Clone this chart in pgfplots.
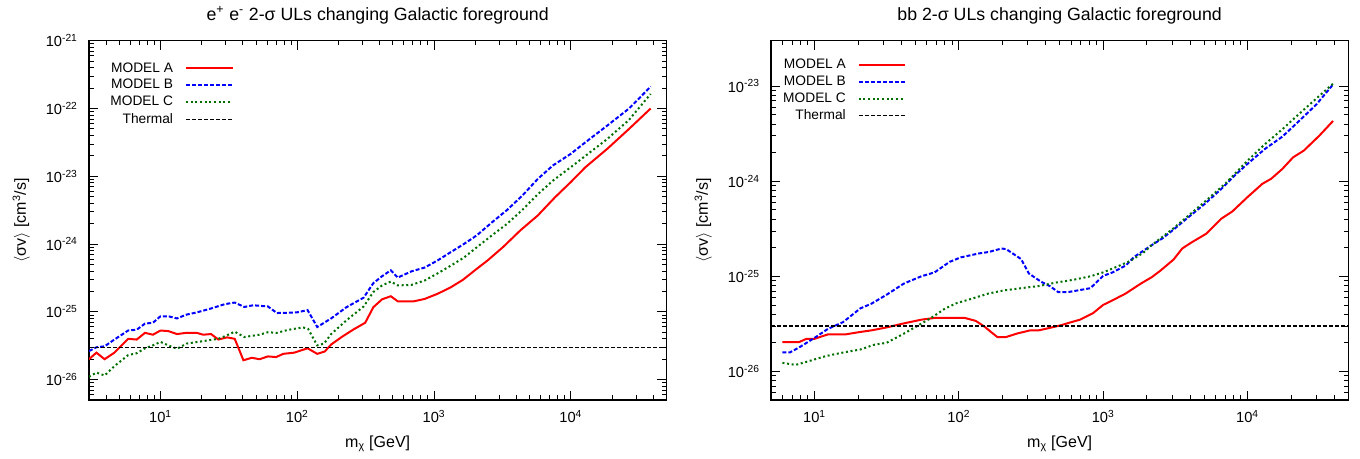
\documentclass[border=0pt]{standalone}
\usepackage{fontspec}
\setmainfont{Liberation Sans}
\usepackage{pgfplots}
\pgfplotsset{compat=1.18}
\definecolor{mred}{RGB}{255,0,0}
\definecolor{mblue}{RGB}{0,0,255}
\definecolor{mgreen}{RGB}{0,110,0}

\pgfplotsset{
 log number format basis/.code 2 args={#1\textsuperscript{\pgfmathprintnumber[assume math mode=true]{#2}}},
 legend image code/.code={\draw[#1] (0pt,0pt) -- (35pt,0pt);},
}
\tikzset{
 modA/.style={mred, line width=1.5pt},
 modB/.style={mblue, line width=1.5pt, dash pattern=on 3pt off 1.5pt},
 modC/.style={mgreen, line width=1.5pt, dash pattern=on 1.5pt off 2pt},
 therm/.style={black, line width=0.9pt, dash pattern=on 3pt off 1.5pt},
}

\begin{document}
\begin{tikzpicture}
\path (-66.75pt,-43.5pt) rectangle (953.25pt,300pt);

% left: e+ e-
\begin{axis}[xmode=log, ymode=log,
 scale only axis, width=433pt, height=269.5pt,
 at={(0pt,0pt)}, anchor=south west,
 xmin=3, xmax=5e4, ymin=5e-27, ymax=1e-21,
 axis line style={line width=0.9pt},
 major tick length=7pt, minor tick length=3.5pt,
 tick style={black, line width=0.6pt},
 tick label style={font=\fontsize{11}{13}\selectfont},
 xticklabel style={yshift=-4pt}, yticklabel style={xshift=-5pt},
 label style={font=\fontsize{12}{14}\selectfont},
 xlabel style={yshift=-3pt}, ylabel style={yshift=5pt},
 title style={font=\fontsize{13.3}{15}\selectfont, yshift=3pt},
 xlabel={m\textsubscript{χ} [GeV]},
 ylabel={$\langle$σv$\rangle$ [cm\textsuperscript{3}/s]},
 title={e\textsuperscript{+} e\textsuperscript{-} 2-σ ULs changing Galactic foreground},
 legend cell align=right, legend plot pos=right,
 legend style={draw=none, fill=none, font=\fontsize{10.3}{12}\selectfont,
   row sep=0pt, column sep=7pt, anchor=north east, at={(0.258,0.955)}}]
\addplot[modA] coordinates {(3,2.0e-26) (3.4,2.5e-26) (3.9,2.0e-26) (4.6,2.5e-26) (5.8,4.0e-26) (6.7,3.9e-26) (7.7,4.9e-26) (8.8,4.6e-26) (10,5.3e-26) (11.4,5.2e-26) (13.2,4.7e-26) (15.5,4.9e-26) (18.4,4.9e-26) (20.5,4.6e-26) (23.4,4.7e-26) (26.5,3.9e-26) (30.6,4.2e-26) (34.9,4.0e-26) (40.4,1.93e-26) (46.5,2.1e-26) (53,2.0e-26) (61,2.2e-26) (70,2.15e-26) (79,2.4e-26) (95,2.5e-26) (119,2.9e-26) (140,2.4e-26) (159,2.6e-26) (177,3.3e-26) (213,4.3e-26) (256,5.45e-26) (314,6.9e-26) (360,1.17e-25) (417,1.53e-25) (483,1.7e-25) (543,1.43e-25) (712,1.43e-25) (855,1.55e-25) (1065,1.85e-25) (1326,2.3e-25) (1629,2.97e-25) (1984,4.08e-25) (2470,5.75e-25) (3193,9.0e-25) (4277,1.59e-24) (5729,2.63e-24) (7675,4.9e-24) (1e4,8.2e-24) (1.28e4,1.36e-23) (1.85e4,2.54e-23) (2.67e4,5.0e-23) (3.84e4,1.0e-22)};
\addlegendentry{MODEL A}
\addplot[modB] coordinates {(3,2.64e-26) (3.4,3.0e-26) (3.9,3.1e-26) (4.6,3.9e-26) (5.8,5.3e-26) (6.7,5.45e-26) (7.7,6.7e-26) (8.8,6.9e-26) (10,8.6e-26) (11.4,8.6e-26) (13.2,8.0e-26) (15.5,9.1e-26) (18.4,9.8e-26) (23.4,1.12e-25) (29.6,1.3e-25) (34.9,1.37e-25) (41,1.18e-25) (47.6,1.25e-25) (61,1.2e-25) (71,9.6e-26) (85,9.7e-26) (99,9.8e-26) (119,1.06e-25) (140,5.97e-26) (177,8.0e-26) (229,1.17e-25) (306,1.62e-25) (360,2.65e-25) (417,3.35e-25) (483,4.1e-25) (543,3.2e-25) (685,3.96e-25) (855,4.5e-25) (1065,5.75e-25) (1326,7.6e-25) (1653,1.0e-24) (2061,1.35e-24) (2660,2.1e-24) (3435,3.2e-24) (4430,5.2e-24) (5729,9.1e-24) (7394,1.44e-23) (1e4,2.14e-23) (1.28e4,3.17e-23) (1.85e4,5.6e-23) (2.67e4,1.0e-22) (3.84e4,2.1e-22)};
\addlegendentry{MODEL B}
\addplot[modC] coordinates {(3,1.1e-26) (3.4,1.27e-26) (3.9,1.15e-26) (4.6,1.58e-26) (5.8,2.3e-26) (6.7,2.45e-26) (7.7,2.9e-26) (8.8,3.2e-26) (10,3.6e-26) (11.4,3.2e-26) (13.2,2.85e-26) (15.5,3.4e-26) (20.5,3.7e-26) (26.5,4.0e-26) (30.6,4.5e-26) (34.9,5.1e-26) (41,4.25e-26) (53,4.6e-26) (61,5.0e-26) (71,4.9e-26) (85,5.4e-26) (110,5.9e-26) (120,5.6e-26) (140,3.2e-26) (157,3.4e-26) (177,4.7e-26) (229,7.5e-26) (306,1.2e-25) (360,1.96e-25) (417,2.45e-25) (483,2.8e-25) (543,2.45e-25) (685,2.5e-25) (855,2.9e-25) (1065,3.7e-25) (1326,4.8e-25) (1653,6.3e-25) (2061,9.0e-25) (2660,1.35e-24) (3435,2.0e-24) (4430,3.2e-24) (5729,5.4e-24) (7394,8.6e-24) (1e4,1.36e-23) (1.28e4,2.0e-23) (1.85e4,3.55e-23) (2.67e4,6.8e-23) (3.84e4,1.64e-22)};
\addlegendentry{MODEL C}
\addplot[therm] coordinates {(3,3e-26) (5e4,3e-26)};
\addlegendentry{Thermal}
\end{axis}

% right: b bbar
\begin{axis}[xmode=log, ymode=log,
 scale only axis, width=433pt, height=269.5pt,
 at={(511.5pt,0pt)}, anchor=south west,
 xmin=5, xmax=5e4, ymin=5e-27, ymax=3e-23,
 axis line style={line width=0.9pt},
 major tick length=7pt, minor tick length=3.5pt,
 tick style={black, line width=0.6pt},
 tick label style={font=\fontsize{11}{13}\selectfont},
 xticklabel style={yshift=-4pt}, yticklabel style={xshift=-5pt},
 label style={font=\fontsize{12}{14}\selectfont},
 xlabel style={yshift=-3pt}, ylabel style={yshift=5pt},
 title style={font=\fontsize{13.3}{15}\selectfont, yshift=3pt},
 xlabel={m\textsubscript{χ} [GeV]},
 ylabel={$\langle$σv$\rangle$ [cm\textsuperscript{3}/s]},
 title={bb 2-σ ULs changing Galactic foreground},
 legend cell align=right, legend plot pos=right,
 legend style={draw=none, fill=none, font=\fontsize{10.3}{12}\selectfont,
   row sep=0pt, column sep=7pt, anchor=north east, at={(0.242,0.965)}}]
\addplot[modA] coordinates {(6,2.03e-26) (7.8,2.03e-26) (8.8,2.2e-26) (10,2.2e-26) (12.4,2.45e-26) (16.4,2.45e-26) (20.8,2.6e-26) (24.8,2.7e-26) (31.6,2.9e-26) (41.7,3.2e-26) (55,3.5e-26) (68,3.65e-26) (110,3.65e-26) (131,3.4e-26) (151,2.95e-26) (167,2.6e-26) (185,2.3e-26) (213,2.3e-26) (253,2.5e-26) (312,2.7e-26) (358,2.7e-26) (441,2.9e-26) (507,3.05e-26) (603,3.3e-26) (692,3.5e-26) (852,4.1e-26) (1000,5.0e-26) (1165,5.6e-26) (1435,6.6e-26) (1829,8.4e-26) (2175,9.8e-26) (2500,1.15e-25) (3077,1.5e-25) (3532,1.96e-25) (4057,2.25e-25) (5173,2.8e-25) (6596,4.04e-25) (7852,4.8e-25) (1e4,6.8e-25) (1.27e4,9.4e-25) (1.46e4,1.06e-24) (1.74e4,1.34e-24) (2.07e4,1.78e-24) (2.46e4,2.1e-24) (3.14e4,3.0e-24) (3.92e4,4.3e-24)};
\addlegendentry{MODEL A}
\addplot[modB] coordinates {(6,1.59e-26) (6.8,1.59e-26) (7.9,1.8e-26) (10,2.25e-26) (12.4,2.8e-26) (15.8,3.3e-26) (20.8,4.6e-26) (24.8,5.15e-26) (31.6,6.4e-26) (41.7,8.4e-26) (55,1.0e-25) (68,1.1e-25) (86.5,1.42e-25) (103,1.58e-25) (138,1.74e-25) (161,1.8e-25) (198,1.96e-25) (213,1.93e-25) (270,1.52e-25) (306,1.07e-25) (370,8.8e-26) (427,7.9e-26) (490,6.8e-26) (563,6.8e-26) (666,7.1e-26) (816,7.5e-26) (1000,1.01e-25) (1165,1.1e-25) (1435,1.3e-25) (1642,1.6e-25) (2175,2.13e-25) (2570,2.5e-25) (3077,3.1e-25) (3790,4.04e-25) (5010,5.7e-25) (6596,8.3e-25) (8110,1.14e-24) (1e4,1.52e-24) (1.32e4,2.18e-24) (1.74e4,2.93e-24) (2.28e4,4.3e-24) (3.0e4,6.4e-24) (3.92e4,1.04e-23)};
\addlegendentry{MODEL B}
\addplot[modC] coordinates {(6,1.23e-26) (7.4,1.17e-26) (9.1,1.28e-26) (12,1.45e-26) (15.8,1.58e-26) (20.8,1.7e-26) (25.7,1.9e-26) (31.6,2.0e-26) (41.7,2.5e-26) (51.4,3.0e-26) (63.4,3.6e-26) (80.7,4.6e-26) (96,5.2e-26) (127,5.9e-26) (161,6.6e-26) (205,7.1e-26) (270,7.5e-26) (358,7.9e-26) (473,8.6e-26) (624,9.2e-26) (816,1.0e-25) (1000,1.1e-25) (1245,1.26e-25) (1540,1.45e-25) (1900,1.77e-25) (2175,2.13e-25) (3077,3.2e-25) (5010,6.0e-25) (7060,9.5e-25) (1e4,1.64e-24) (1.32e4,2.45e-24) (1.74e4,3.5e-24) (2.28e4,5.1e-24) (3.0e4,7.4e-24) (3.92e4,1.06e-23)};
\addlegendentry{MODEL C}
\addplot[therm] coordinates {(5,3e-26) (5e4,3e-26)};
\addlegendentry{Thermal}
\end{axis}
\end{tikzpicture}
\end{document}
